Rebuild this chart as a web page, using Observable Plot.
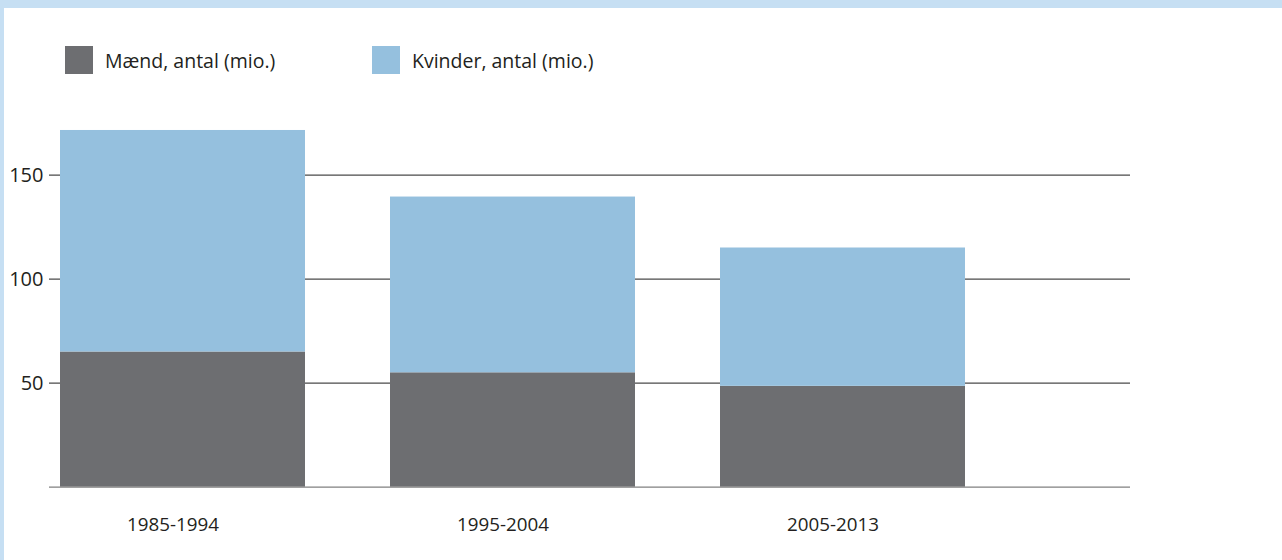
<!DOCTYPE html>
<html><head><meta charset="utf-8">
<script src="https://cdn.jsdelivr.net/npm/d3@7"></script>
<script src="https://cdn.jsdelivr.net/npm/@observablehq/plot@0.6"></script>
<style>
body{margin:0;background:#fff;font-family:"Open Sans",sans-serif;}
#wrap{position:relative;width:1282px;height:560px;overflow:hidden;background:#fff;}
#chart{position:absolute;left:0;top:0;}
.bt{position:absolute;left:0;top:0;width:1282px;height:8px;background:#c6dff3;}
.bl{position:absolute;left:0;top:0;width:4px;height:560px;background:#c6dff3;}
#legend{position:absolute;top:46px;left:65px;display:flex;color:#231f20;font-size:19.5px;}
.item{display:flex;align-items:center;height:28px;}
.item:first-child{width:307px;}
.sw{width:28px;height:28px;margin-right:12px;}
</style></head>
<body><div id="wrap"><div id="chart"></div><div class="bt"></div><div class="bl"></div><div id="legend"></div></div>
<script>
const periods = ["1985-1994", "1995-2004", "2005-2013"];
const men = [65, 55, 48.5];
const women = [106.5, 84.5, 66.5];
const seriesNames = ["Mænd, antal (mio.)", "Kvinder, antal (mio.)"];
const seriesColors = ["#6d6e71", "#95c0de"];
const yTicks = [50, 100, 150];

const rows = [];
periods.forEach((p, i) => {
  rows.push({period: p, series: seriesNames[0], value: men[i]});
  rows.push({period: p, series: seriesNames[1], value: women[i]});
});

const legend = document.getElementById("legend");
seriesNames.forEach((s, i) => {
  const it = document.createElement("div");
  it.className = "item";
  it.innerHTML = `<div class="sw" style="background:${seriesColors[i]}"></div><span>${s}</span>`;
  legend.appendChild(it);
});

const chart = Plot.plot({
  width: 1282,
  height: 560,
  marginLeft: 49,
  marginRight: 152,
  marginBottom: 73.3,
  marginTop: 100,
  style: {fontFamily: "Open Sans, sans-serif", color: "#231f20", background: "transparent"},
  x: {domain: periods, range: [60, 965], paddingInner: 0.258, paddingOuter: 0, align: 0, label: null},
  y: {domain: [0, 150], range: [486.7, 174.7], label: null},
  color: {domain: seriesNames, range: seriesColors},
  marks: [
    Plot.ruleY(yTicks, {stroke: "#4a4a4a", strokeWidth: 1.2}),
    Plot.barY(rows, {x: "period", y: "value", fill: "series"}),
    Plot.ruleY([0], {stroke: "#808080", strokeWidth: 1.2}),
    Plot.axisY(yTicks, {tickSize: 0, tickPadding: 6, fontSize: 20, label: null, fill: "#231f20"}),
    Plot.axisX({tickSize: 0, tickPadding: 30, dx: -10, fontSize: 18.8, label: null, fill: "#231f20"})
  ]
});
document.getElementById("chart").appendChild(chart);
</script></body></html>
